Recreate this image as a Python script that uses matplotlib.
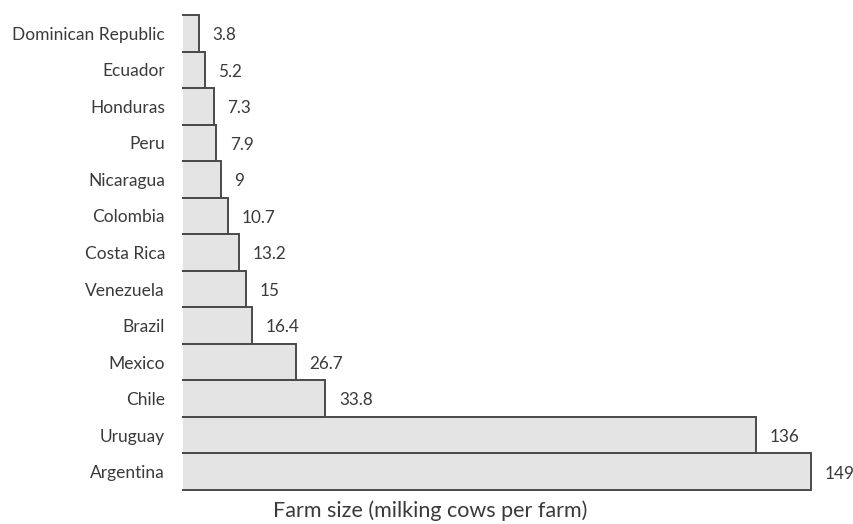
import matplotlib.pyplot as plt

plt.rcParams['font.family'] = ['Lato', 'DejaVu Sans']

# average dairy farm size, top to bottom as drawn
countries = ['Dominican Republic', 'Ecuador', 'Honduras', 'Peru', 'Nicaragua',
             'Colombia', 'Costa Rica', 'Venezuela', 'Brazil', 'Mexico',
             'Chile', 'Uruguay', 'Argentina']
cows_per_farm = [3.8, 5.2, 7.3, 7.9, 9, 10.7, 13.2, 15, 16.4, 26.7, 33.8, 136, 149]
value_labels = ['3.8', '5.2', '7.3', '7.9', '9', '10.7', '13.2', '15', '16.4',
                '26.7', '33.8', '136', '149']

text_col = '#3a3a3a'
edge_col = '#4a4a4a'
fill_col = '#e4e4e4'

fig = plt.figure(figsize=(8.54, 5.24), dpi=100)
ax = fig.add_axes([183 / 854, 34 / 524, (830 - 183) / 854, 475 / 524])

n = len(countries)
ypos = list(range(n - 1, -1, -1))

ax.barh(ypos, cows_per_farm, height=1.0, color=fill_col, linewidth=0)
# outline each bar on top, right and bottom only (no left edge)
for y, v in zip(ypos, cows_per_farm):
    ax.plot([0, v, v, 0], [y + 0.5, y + 0.5, y - 0.5, y - 0.5],
            color=edge_col, lw=1.4, solid_joinstyle='miter', clip_on=False)

for y, v, lab in zip(ypos, cows_per_farm, value_labels):
    ax.text(v + 3.2, y - 0.05, lab, va='center', ha='left', fontsize=12.3,
            color=text_col)

ax.set_xlim(0, (830 - 183) / 4.215)
ax.set_ylim(-0.5, n - 0.5)
ax.set_yticks(ypos)
ax.set_yticklabels(countries, fontsize=12.5, color=text_col)
ax.tick_params(axis='y', length=0, pad=13)
ax.set_xticks([])
for s in ax.spines.values():
    s.set_visible(False)

fig.text(430 / 854, 1 - 511 / 524, 'Farm size (milking cows per farm)',
         ha='center', va='center', fontsize=15.5, color=text_col)

fig.savefig('out.png', dpi=100)
